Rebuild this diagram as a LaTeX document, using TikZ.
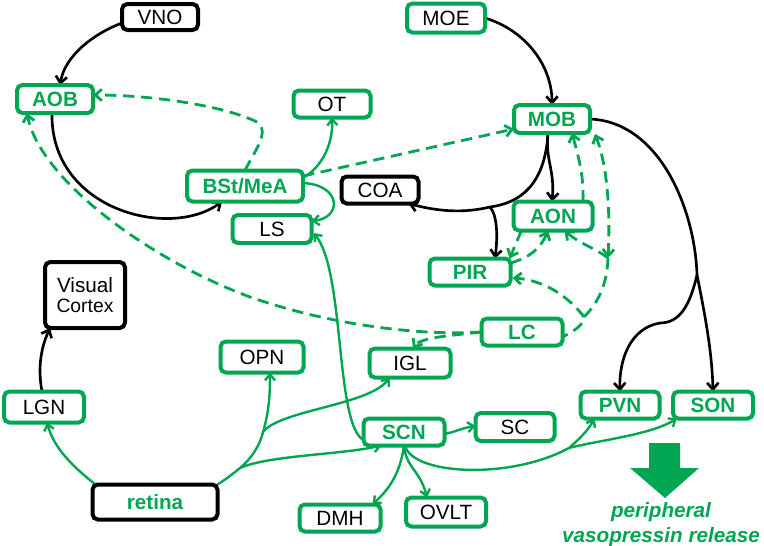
\documentclass[tikz,border=0pt]{standalone}
\usepackage{fontspec}
\setmainfont{Liberation Sans}
\usetikzlibrary{arrows.meta,calc,backgrounds}
\definecolor{grn}{RGB}{0,166,81}
\begin{document}
\begin{tikzpicture}[x=0.75pt,y=-0.75pt,
 box/.style={draw=grn, line width=3pt, rounded corners=4pt, fill=white, inner sep=0pt, outer sep=0pt, font=\fontsize{15.5}{17}\selectfont},
 gbox/.style={box, text=grn, font=\fontsize{15.5}{17}\selectfont\bfseries},
 kbox/.style={box, draw=black},
 sz/.style 2 args={minimum width=#1*0.75pt-3pt, minimum height=#2*0.75pt-3pt},
 blk/.style={draw=black, line width=2pt, -{Straight Barb[length=5pt,width=8.5pt]}},
 gsol/.style={draw=grn, line width=1.8pt, -{Straight Barb[length=4.5pt,width=7.5pt]}},
 gdash/.style={draw=grn, line width=2.1pt, dash pattern=on 8.5pt off 5pt, -{Straight Barb[length=5pt,width=8.5pt]}},
 gdd/.style={gdash, {Straight Barb[length=5pt,width=8.5pt]}-{Straight Barb[length=5pt,width=8.5pt]}},
 lbl/.style={text=grn, inner sep=0pt, font=\fontsize{15.5}{17}\selectfont\bfseries\itshape}
]
\useasboundingbox (0,0) rectangle (764,546);

% nodes
\node[kbox, sz={80}{30}] (VNO) at (160,17) {VNO};
\node[gbox, sz={80}{32}] (AOB) at (55,99) {AOB};
\node[box, sz={81}{31}] (OT) at (332,104) {OT};
\node[gbox, sz={120}{35}] (BSt) at (245,186) {BSt/MeA};
\node[box, sz={83}{32}] (LS) at (272,229) {LS};
\node[box, sz={82}{33}] (MOE) at (446,18) {MOE};
\node[gbox, sz={80}{32}] (MOB) at (552,119) {MOB};
\node[kbox, sz={81}{31}] (COA) at (380,190) {COA};
\node[gbox, sz={83}{33}] (AON) at (553,216) {AON};
\node[gbox, sz={85}{31}] (PIR) at (470,272) {PIR};
\node[gbox, sz={85}{31}] (LC) at (522,332) {LC};
\node[kbox, sz={84}{70}, align=center] (VC) at (85,295) {Visual\\[-2pt]{\fontsize{14.5}{15}\selectfont Cortex}};
\node[box, sz={84}{35}] (LGN) at (44,407) {LGN};
\node[box, sz={87}{35}] (OPN) at (262,357) {OPN};
\node[box, sz={85}{33}] (IGL) at (410,363) {IGL};
\node[gbox, sz={85}{31}] (SCN) at (404,432) {SCN};
\node[box, sz={83}{32}] (SC) at (515,427) {SC};
\node[gbox, sz={83}{31}] (PVN) at (620,405) {PVN};
\node[gbox, sz={84}{31}] (SON) at (713,405) {SON};
\node[gbox, draw=black, sz={129}{39}] (retina) at (155,502) {retina};
\node[box, sz={85}{31}] (DMH) at (340,518) {DMH};
\node[box, sz={84}{33}] (OVLT) at (446,512) {OVLT};

\fill[grn] (649,443) -- (680,443) -- (680,468) -- (699,468) -- (665,498) -- (630,468) -- (649,468) -- cycle;
\node[lbl] (pr) at (661,512) {peripheral};
\node[lbl] (vr) at (661,537) {vasopressin release};

\coordinate (b1) at (490,207);
\coordinate (s1) at (697,275);
\coordinate (j) at (608,258);
\coordinate (k) at (584,317);
\coordinate (r1) at (240,468);
\coordinate (r2) at (263,432);
\coordinate (s2) at (569,448);

\begin{scope}[on background layer]
% black connectors
\draw[blk] ($(VNO.west)+(0,6)$) .. controls (95,33) and (65,55) .. ($(AOB.north)+(5,0)$);
\draw[blk] ($(AOB.south)+(-3,0)$) .. controls (50,210) and (170,240) .. ($(BSt.south)+(-23,0)$);
\draw[blk] (MOE.east) .. controls (525,30) and (552,65) .. (MOB.north);
\draw[blk] ($(MOB.south)+(-4,0)$) .. controls (545,160) and (555,170) .. ($(AON.north)+(-1,0)$);
\draw[blk] ($(MOB.south)+(-4,0)$) .. controls (545,185) and (520,203) .. (b1) .. controls (465,213) and (440,212) .. ($(COA.south east)+(-10,0)$);
\draw[blk] (b1) .. controls (497,215) and (498,235) .. ($(PIR.north)+(25,0)$);
\draw[draw=black, line width=2pt] (MOB.east) .. controls (660,122) and (695,210) .. (s1);
\draw[blk] (s1) .. controls (704,310) and (712,350) .. (SON.north);
\draw[blk] (s1) .. controls (690,305) and (680,323) .. (660,323) .. controls (630,328) and (619,360) .. (PVN.north);
\draw[blk] ($(LGN.north)+(-2,0)$) .. controls (38,370) and (40,350) .. ($(VC.south west)+(5,0)$);

% green dashed
\draw[gdash] (BSt.north) .. controls (255,150) and (272,130) .. (255,121) .. controls (220,105) and (150,95) .. ($(AOB.east)+(0,-4)$);
\draw[gdash] ($(BSt.east)+(0,-10)$) -- ($(MOB.west)+(0,10)$);
\draw[gdash] (LC.west) .. controls (420,336) and (330,325) .. (250,297) .. controls (150,260) and (40,180) .. ($(AOB.south west)+(10,0)$);
\draw[gdash] (LC.west) .. controls (445,336) and (420,338) .. ($(IGL.north)+(3,0)$);
\draw[gdash] ($(AON.north)+(30,0)$) .. controls (584,175) and (578,155) .. ($(MOB.south)+(20,0)$);
\draw[gdash] ($(PIR.east)+(0,-9)$) .. controls (528,258) and (540,250) .. ($(AON.south)+(-5,0)$);
\draw[gdash] ($(AON.south west)+(8,0)$) -- ($(PIR.north east)+(-1,0)$);
\draw[gdd] (j) .. controls (610,220) and (609,170) .. ($(MOB.south east)+(5,1)$);
\draw[gdash] (j) .. controls (595,248) and (580,244) .. ($(AON.south east)+(-28,0)$);
\draw[gdash, -] (j) .. controls (607,285) and (598,303) .. (k) .. controls (583,326) and (575,330) .. ($(LC.east)+(0,5)$);
\draw[gdash] (k) .. controls (570,298) and (545,280) .. ($(PIR.east)+(2,6)$);

% green solid
\draw[gsol] ($(BSt.east)+(0,-8)$) .. controls (325,165) and (333,140) .. (OT.south);
\draw[gsol] ($(BSt.east)+(0,-3)$) .. controls (342,185) and (342,218) .. ($(LS.east)+(0,-8)$);
\draw[gsol] ($(SCN.west)+(0,8)$) .. controls (335,425) and (345,270) .. ($(LS.east)+(2,4)$);
\draw[gsol] ($(SCN.east)+(0,2)$) .. controls (455,432) and (462,428) .. ($(SC.west)+(0,-1)$);
\draw[gsol] (SCN.south) .. controls (400,475) and (388,490) .. ($(DMH.north east)+(-8,0)$);
\draw[gsol] (SCN.south) .. controls (406,468) and (420,470) .. ($(OVLT.north)+(-19,0)$);
\draw[gsol, -] ($(SCN.south)+(1,0)$) .. controls (412,475) and (510,480) .. (s2);
\draw[gsol] (s2) .. controls (578,440) and (587,432) .. ($(PVN.south west)+(14,0)$);
\draw[gsol] (s2) .. controls (600,440) and (650,435) .. ($(SON.south west)+(4,0)$);
\draw[gsol] ($(retina.north west)+(3,0)$) .. controls (72,466) and (54,448) .. ($(LGN.south)+(3,0)$);
\draw[gsol, -] (retina.north east) .. controls (228,478) and (235,472) .. (r1);
\draw[gsol] (r1) .. controls (270,455) and (340,455) .. ($(SCN.south west)+(18,0)$);
\draw[gsol, -] (r1) .. controls (252,458) and (260,445) .. (r2);
\draw[gsol] (r2) .. controls (268,415) and (270,400) .. ($(OPN.south)+(8,0)$);
\draw[gsol] (r2) .. controls (280,410) and (370,405) .. ($(IGL.south west)+(20,0)$);
\end{scope}
\end{tikzpicture}
\end{document}
